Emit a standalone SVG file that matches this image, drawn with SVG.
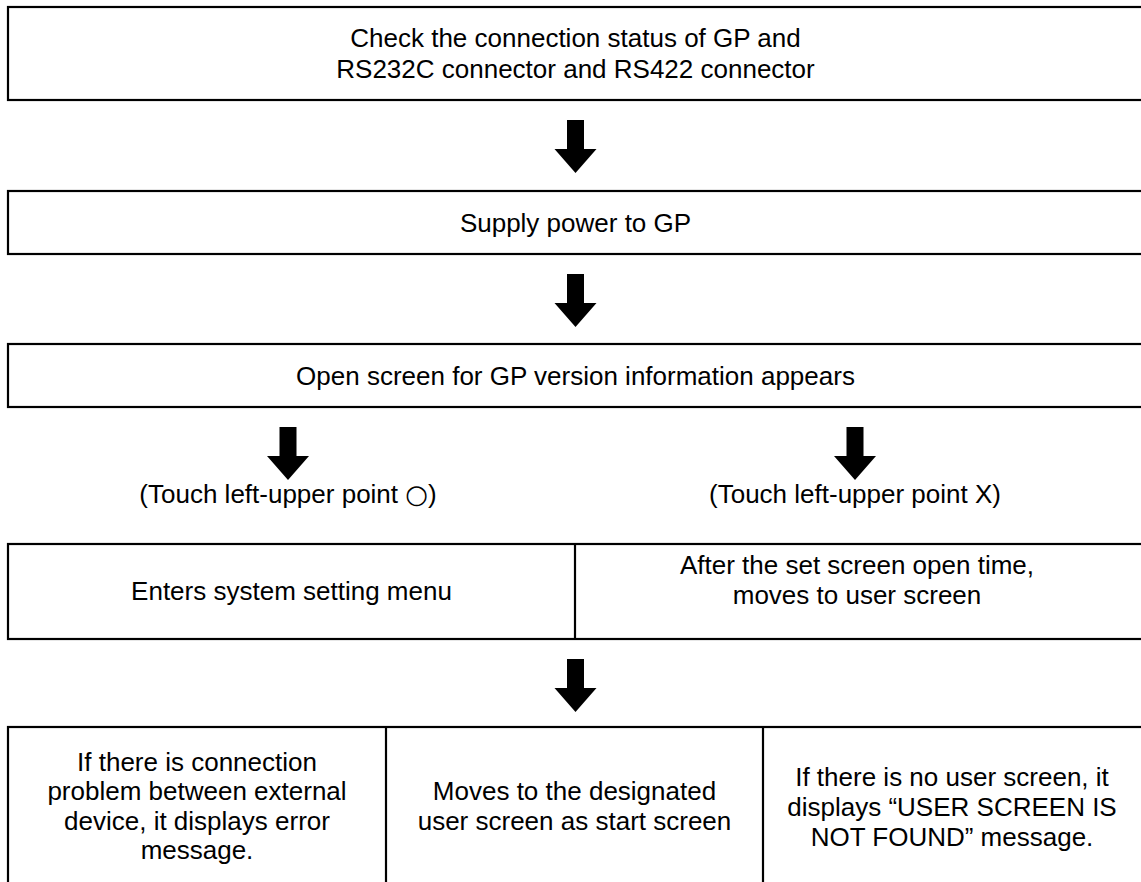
<svg xmlns="http://www.w3.org/2000/svg" width="1141" height="882" viewBox="0 0 1141 882">
<defs>
<style>
.box{fill:#fff;stroke:#000;stroke-width:2.2}
.div{stroke:#000;stroke-width:2.2;fill:none}
.t{font-family:"Liberation Sans","DejaVu Sans",Arial,sans-serif;font-size:26px;fill:#000;text-anchor:middle}
.arr{fill:#000}
</style>
<path id="arrow" d="M-8.5,0 H8.5 V29 H21 L0,53 L-21,29 H-8.5 Z"/>
</defs>
<rect width="1141" height="882" fill="#fff"/>
<g id="n1">
<rect class="box" x="8" y="7" width="1137" height="93"/>
<text class="t" x="575.5" y="47">Check the connection status of GP and</text>
<text class="t" x="575.5" y="78">RS232C connector and RS422 connector</text>
</g>
<g id="n2">
<rect class="box" x="8" y="191" width="1137" height="63"/>
<text class="t" x="575.5" y="232">Supply power to GP</text>
</g>
<g id="n3">
<rect class="box" x="8" y="344" width="1137" height="63"/>
<text class="t" x="575.5" y="385">Open screen for GP version information appears</text>
</g>
<g id="labels">
<text class="t" x="288" y="503">(Touch left-upper point  <tspan font-family="DejaVu Sans, sans-serif">○</tspan>)</text>
<text class="t" x="855" y="503">(Touch left-upper point X)</text>
</g>
<g id="n4">
<rect class="box" x="8" y="544" width="1137" height="95"/>
<line class="div" x1="575" y1="544" x2="575" y2="639"/>
<text class="t" x="291.5" y="600">Enters system setting menu</text>
<text class="t" x="857" y="574">After the set screen open time,</text>
<text class="t" x="857" y="604">moves to user screen</text>
</g>
<g id="n5">
<rect class="box" x="8" y="727" width="1137" height="170"/>
<line class="div" x1="386" y1="727" x2="386" y2="882"/>
<line class="div" x1="763" y1="727" x2="763" y2="882"/>
<text class="t" x="197" y="771">If there is connection</text>
<text class="t" x="197" y="800">problem between external</text>
<text class="t" x="197" y="830">device, it displays error</text>
<text class="t" x="197" y="859">message.</text>
<text class="t" x="574.5" y="800">Moves to the designated</text>
<text class="t" x="574.5" y="830">user screen as start screen</text>
<text class="t" x="952" y="786">If there is no user screen, it</text>
<text class="t" x="952" y="816">displays “USER SCREEN IS</text>
<text class="t" x="952" y="846">NOT FOUND” message.</text>
</g>
<g id="connectors">
<use href="#arrow" class="arr" x="575.5" y="120"/>
<use href="#arrow" class="arr" x="575.5" y="274"/>
<use href="#arrow" class="arr" x="288" y="427"/>
<use href="#arrow" class="arr" x="855" y="427"/>
<use href="#arrow" class="arr" x="575.5" y="659"/>
</g>
</svg>
